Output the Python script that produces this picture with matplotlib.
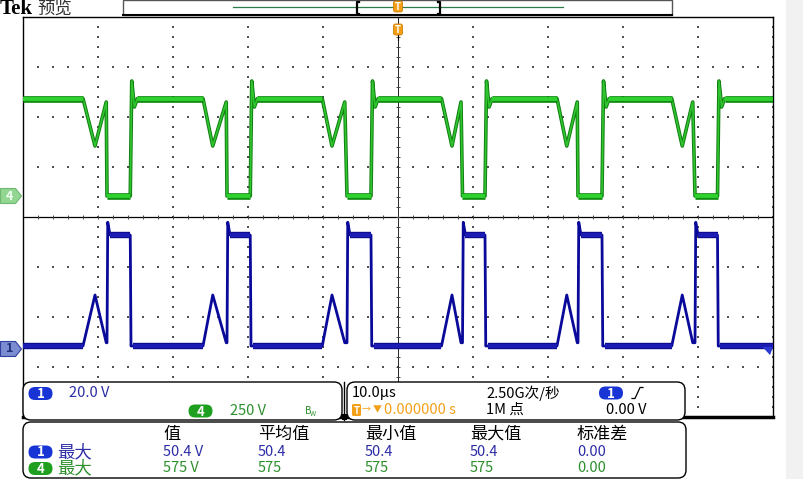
import numpy as np
import matplotlib
matplotlib.use('Agg')
import matplotlib.pyplot as plt
from matplotlib.patches import FancyBboxPatch, Polygon, Rectangle

plt.rcParams['font.family'] = ['Noto Sans CJK SC', 'DejaVu Sans']

# scope settings
time_div = 10.0      # us / div
ch1_vdiv = 20.0      # V / div
ch4_vdiv = 250.0
ch1_pos = -2.58      # ground marker, divisions from centre
ch4_pos = 0.42

# switching events of every cycle (us from trigger)
dip_start = [-42.0, -26.0, -10.1, 5.8, 21.2, 36.5]
dip_min = [-40.4, -24.7, -8.8, 7.2, 22.5, 37.9]
dip_end = [-38.9, -22.9, -7.1, 8.4, 23.9, 39.3]
turn_on = [-38.8, -22.8, -6.8, 8.6, 24.0, 39.6]    # ch4 drops, ch1 rises
turn_off = [-35.7, -19.7, -3.6, 11.6, 27.2, 42.6]  # ch4 rises, ch1 falls

# levels (V)
ch4_high = 487
ch4_spike = 575
ch4_ring = 445
ch4_dip = 250
ch4_dip_end = 470
ch4_low = 0
ch1_base = 0
ch1_bump = 20.4
ch1_bump_end = 1.3
ch1_high = 44.4
ch1_spike = 49.5

# measurement table
meas_head = ['值', '平均值', '最小值', '最大值', '标准差']
meas_ch1 = ['50.4 V', '50.4', '50.4', '50.4', '0.00']
meas_ch4 = ['575 V', '575', '575', '575', '0.00']

W, H = 804, 479
fig = plt.figure(figsize=(W / 100, H / 100), dpi=100)
fig.patch.set_facecolor('white')

ax = fig.add_axes([23 / W, (H - 417) / H, 750 / W, 400 / H])
ax.set_xlim(-5 * time_div, 5 * time_div)
ax.set_ylim(-4, 4)
ax.set_xticks([])
ax.set_yticks([])
for s in ['left', 'top', 'right']:
    ax.spines[s].set_linewidth(1.0)
ax.spines['bottom'].set_linewidth(2.5)

# graticule dots
dot_c = '#505050'
xx = np.arange(-50, 50.1, 2)
yy = np.arange(-4, 4.01, 0.2)
for gx in [-40, -30, -20, -10, 10, 20, 30, 40, 50]:
    ax.scatter(np.full(len(yy), gx), yy, s=1.0, marker='s', color=dot_c, lw=0, zorder=1)
for gy in [-3, -2, -1, 1, 2, 3]:
    ax.scatter(xx, np.full(len(xx), gy), s=1.0, marker='s', color=dot_c, lw=0, zorder=1)
# centre lines with ticks
ax.axhline(0, color='black', lw=0.9, zorder=1)
ax.axvline(0, color='#222222', lw=0.7, zorder=1)
ax.scatter(xx, np.zeros(len(xx)), marker='|', s=12, color='#444444', lw=0.7, zorder=1)
ax.scatter(np.zeros(len(yy)), yy, marker='_', s=12, color='#444444', lw=0.7, zorder=1)

# build traces from the read events
t4, v4 = [-50.0], [ch4_high]
t1, v1 = [-50.0], [ch1_base]
for a, b, c, d, e in zip(dip_start, dip_min, dip_end, turn_on, turn_off):
    t4 += [a, b, c, d, e, e + 0.2, e + 0.55, e + 0.95]
    v4 += [ch4_high, ch4_dip, ch4_dip_end, ch4_low, ch4_low, ch4_spike, ch4_ring, ch4_high]
    t1 += [a, b, c, d, d + 0.1, d + 0.4, e, e + 0.1, e + 0.4]
    v1 += [ch1_base, ch1_bump, ch1_bump_end, ch1_bump_end, ch1_spike, ch1_high,
           ch1_high, ch1_base, ch1_base]
t4.append(50.0); v4.append(ch4_high)
t1.append(50.0); v1.append(ch1_base)
y4 = np.array(v4) / ch4_vdiv + ch4_pos
y1 = np.array(v1) / ch1_vdiv + ch1_pos

ax.plot(t4, y4, color='#0f7f0f', lw=2.6, zorder=3, solid_joinstyle='round')
ax.plot(t4, y4, color='#30c430', lw=1.2, zorder=3, solid_joinstyle='round')
ax.plot(t1, y1, color='#0a0a9a', lw=2.0, zorder=3, solid_joinstyle='round')

# noisy flat parts drawn as thick bands
hi_start = [-50.0] + [e + 0.95 for e in turn_off]
hi_end = dip_start + [50.0]
base_start = [-50.0] + [e + 0.4 for e in turn_off]
on_start = [d + 0.4 for d in turn_on]


def band(level, x0, x1, col, lw):
    ax.hlines(np.full(len(x0), level), x0, x1, color=col, lw=lw, zorder=4)


for lw, col in [(4.8, '#118a11'), (2.8, '#2ed12e')]:
    band(ch4_high / ch4_vdiv + ch4_pos, hi_start, hi_end, col, lw)
    band(ch4_low / ch4_vdiv + ch4_pos, turn_on, turn_off, col, lw)
for lw, col in [(4.6, '#0c0c8c'), (3.0, '#1c1cb4')]:
    band(ch1_base / ch1_vdiv + ch1_pos, base_start, hi_end, col, lw)
    band(ch1_high / ch1_vdiv + ch1_pos, on_start, turn_off, col, lw)

# channel ground markers on the left edge
for pos, fc, ec, lab, tc in [(ch4_pos, '#92d692', '#70b870', '4', '#f4fff4'),
                             (ch1_pos - 0.06, '#7c8cd0', '#3040a0', '1', '#20307a')]:
    pts = [(-53.0, pos + 0.15), (-51.0, pos + 0.15), (-50.2, pos),
           (-51.0, pos - 0.15), (-53.0, pos - 0.15)]
    ax.add_patch(Polygon(pts, closed=True, fc=fc, ec=ec, lw=0.8, clip_on=False, zorder=6))
    ax.text(-51.8, pos, lab, ha='center', va='center', fontsize=9, color=tc,
            fontweight='bold', clip_on=False, zorder=7)
# trigger level marker
ax.add_patch(Polygon([(48.6, ch1_pos - 0.02), (50.0, ch1_pos - 0.02), (49.6, ch1_pos - 0.18)],
                     closed=True, fc='#2a3ad0', ec='none', zorder=6))

# ---- screen furniture, in pixel units ----
ui = fig.add_axes([0, 0, 1, 1], zorder=5)
ui.set_xlim(0, W)
ui.set_ylim(H, 0)
ui.axis('off')
ui.patch.set_alpha(0)

ui.add_patch(Rectangle((786, 0), 18, H, fc='#f1f1f1', ec='none'))
ui.text(0, 9, 'Tek', fontsize=15, fontweight='bold', family='Liberation Serif',
        va='center', ha='left', color='black')
ui.text(37, 8.5, '预览', fontsize=12.5, va='center', ha='left', color='#333333')

# record bar
ui.add_patch(Rectangle((123, 0), 549, 15, fc='white', ec='#555555', lw=1))
ui.plot([123, 672], [15, 15], color='black', lw=1.5)
ui.plot([233, 563], [7, 7], color='#2e7b4a', lw=0.9)
for bx, sgn in [(357, 1), (440, -1)]:
    ui.plot([bx + 2 * sgn, bx, bx, bx + 2 * sgn], [2, 2, 14, 14], color='black', lw=1.6)

# trigger position markers
orange = '#f3a018'
for ty in [1, 24]:
    ui.add_patch(FancyBboxPatch((393.5, ty), 9, 11, boxstyle='round,pad=0,rounding_size=2',
                                fc=orange, ec='#d08000', lw=0.6, zorder=8))
    ui.text(398, ty + 5.8, 'T', fontsize=7, color='white', ha='center', va='center',
            fontweight='bold', zorder=9)
ui.plot([398, 398], [35, 40], color='black', lw=0.8, zorder=8)

blue_txt = '#2c2ca6'
green_txt = '#2b8f2b'
blue_oval = '#1834d4'
green_oval = '#1f9f1f'


def oval(cx, cy, fc, lab):
    ui.add_patch(FancyBboxPatch((cx - 12, cy - 6.5), 24, 13,
                                boxstyle='round,pad=0,rounding_size=6.5',
                                fc=fc, ec='none', zorder=8))
    ui.text(cx, cy + 0.5, lab, fontsize=9.5, color='white', ha='center', va='center',
            fontweight='bold', zorder=9)


def panel(x0, y0, x1, y1):
    ui.add_patch(FancyBboxPatch((x0, y0), x1 - x0, y1 - y0,
                                boxstyle='round,pad=0,rounding_size=8',
                                fc='white', ec='black', lw=1.0, zorder=7))


panel(23, 382, 342, 420)
panel(347, 382, 685, 420)
panel(23, 422, 686, 478)
ui.add_patch(Rectangle((342, 414), 5, 6, fc='black', ec='none', zorder=8))
ui.plot([344.5, 344.5], [382, 420], color='black', lw=1.0, zorder=8)

fs = 10.5
# channel panel
oval(40.5, 393.5, blue_oval, '1')
ui.text(69, 393, '20.0 V', fontsize=fs, color=blue_txt, va='center', zorder=9)
oval(200.5, 411, green_oval, '4')
ui.text(230, 411, '250 V', fontsize=fs, color=green_txt, va='center', zorder=9)
ui.text(305, 411, 'B', fontsize=7, color=green_txt, va='center', zorder=9)
ui.text(310, 414, 'W', fontsize=5, color=green_txt, va='center', zorder=9)

# horizontal / trigger panel
ui.text(352, 393, '10.0µs', fontsize=fs, color='black', va='center', zorder=9)
ui.add_patch(FancyBboxPatch((352, 404), 9, 12, boxstyle='round,pad=0,rounding_size=1.5',
                            fc=orange, ec='none', zorder=8))
ui.text(356.5, 410.5, 'T', fontsize=7, color='white', ha='center', va='center',
        fontweight='bold', zorder=9)
ui.text(362, 410, '→', fontsize=6.5, color=orange, va='center', zorder=9)
ui.text(373, 410, '▼', fontsize=6.5, color=orange, va='center', zorder=9)
ui.text(384, 410, '0.000000 s', fontsize=fs, color=orange, va='center', zorder=9)
ui.text(486, 393, '2.50G次/秒', fontsize=fs, color='black', va='center', zorder=9)
ui.text(486, 410, '1M 点', fontsize=fs, color='black', va='center', zorder=9)
oval(611, 393, blue_oval, '1')
ui.plot([632, 635, 640, 643], [398.5, 398.5, 387.5, 387.5], color='black', lw=0.9, zorder=9)
ui.text(606, 410, '0.00 V', fontsize=fs, color='black', va='center', zorder=9)

# measurement panel
col_x = [163, 258, 365, 470, 577]
for cx, h in zip(col_x, meas_head):
    ui.text(cx, 434, h, fontsize=12.3, color='black', va='center', zorder=9)
oval(40.5, 452, blue_oval, '1')
ui.text(57, 452, '最大', fontsize=12.5, color=blue_txt, va='center', zorder=9)
oval(40.5, 468.5, green_oval, '4')
ui.text(57, 468.5, '最大', fontsize=12.5, color=green_txt, va='center', zorder=9)
for cx, a, b in zip(col_x, meas_ch1, meas_ch4):
    ui.text(cx, 452, a, fontsize=fs, color=blue_txt, va='center', zorder=9)
    ui.text(cx, 468.5, b, fontsize=fs, color=green_txt, va='center', zorder=9)

fig.savefig('out.png', dpi=100)
